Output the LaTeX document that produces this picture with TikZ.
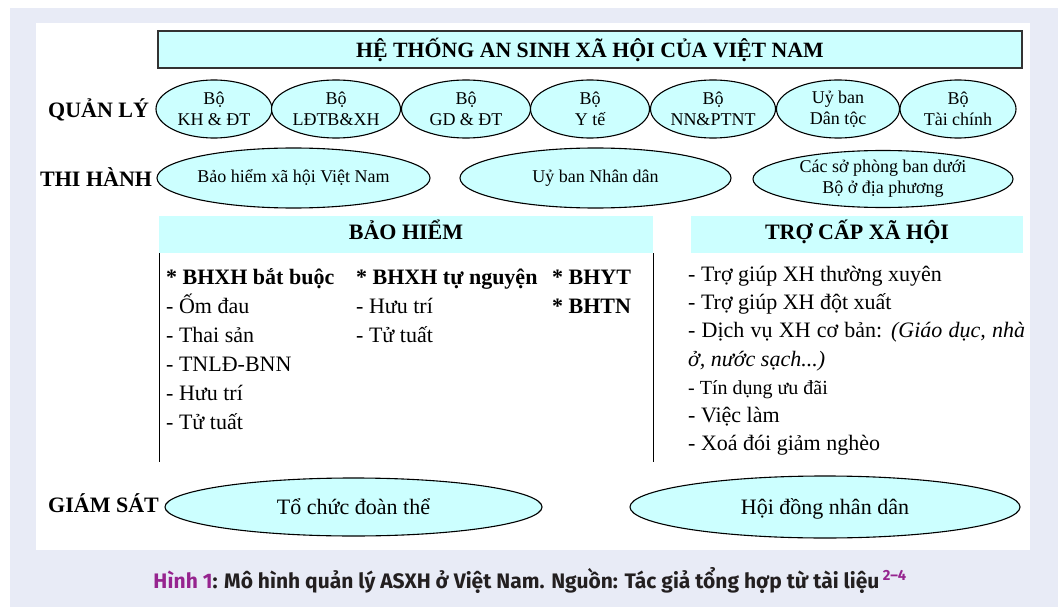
\documentclass[tikz,border=0pt]{standalone}
\usepackage{fontspec}
\setmainfont{Liberation Serif}
\newfontfamily\capfont{Fira Sans}
\usetikzlibrary{shapes.geometric}
\definecolor{bgl}{HTML}{E8EBF6}
\definecolor{cyanf}{HTML}{CCFFFF}
\definecolor{capp}{HTML}{96248F}
\definecolor{capd}{HTML}{231F20}
\begin{document}
\begin{tikzpicture}[x=1pt,y=-1pt,
 ell/.style={ellipse,draw=black,line width=1.1pt,fill=cyanf,inner sep=0pt,align=center,font=\fontsize{18}{21}\selectfont},
 one/.style={text height=12pt,text depth=3.5pt},
 big/.style={font=\fontsize{22}{26}\selectfont,text height=19pt,text depth=4.5pt},
 lbl/.style={font=\bfseries\fontsize{22}{26}\selectfont,anchor=base west,inner sep=0pt},
 body/.style={font=\fontsize{22}{26}\selectfont,anchor=base west,inner sep=0pt},
 bbody/.style={body,font=\bfseries\fontsize{22}{26}\selectfont},
 band/.style={fill=cyanf,draw=none,inner sep=0pt,font=\bfseries\fontsize{22}{26}\selectfont,text height=15pt,text depth=4.5pt},
 vline/.style={line width=1.2pt,black}
]
\useasboundingbox (0,0) rectangle (1058,607);
\fill[white] (0,0) rectangle (1058,607);
\fill[bgl] (10,8) rectangle (1058,607);
\fill[white] (36,23) rectangle (1030,550);

\node[draw=black!80,line width=1.3pt,fill=cyanf,minimum width=864pt,minimum height=37pt,inner sep=0pt,font=\bfseries\fontsize{21.8}{26}\selectfont] (title) at (590,49.5) {HỆ THỐNG AN SINH XÃ HỘI CỦA VIỆT NAM};

% QUAN LY row
\node[lbl] (lq) at (48,118) {QUẢN LÝ};
\node[ell,minimum width=116pt,minimum height=58pt] (q1) at (214,109) {Bộ\\KH \& ĐT};
\node[ell,minimum width=129pt,minimum height=58pt] (q2) at (336,109) {Bộ\\LĐTB\&XH};
\node[ell,minimum width=129pt,minimum height=58pt] (q3) at (466,109) {Bộ\\GD \& ĐT};
\node[ell,minimum width=119pt,minimum height=58pt] (q4) at (590,109) {Bộ\\Y tế};
\node[ell,minimum width=125pt,minimum height=58pt] (q5) at (713,109) {Bộ\\NN\&PTNT};
\node[ell,minimum width=123pt,minimum height=58pt] (q6) at (838,109) {Uỷ ban\\Dân tộc};
\node[ell,minimum width=116pt,minimum height=58pt] (q7) at (958,109) {Bộ\\Tài chính};

% THI HANH row
\node[lbl] (lt) at (40,186) {THI HÀNH};
\node[ell,one,minimum width=273pt,minimum height=60pt] (t1) at (293.5,178) {Bảo hiểm xã hội Việt Nam};
\node[ell,one,minimum width=271pt,minimum height=60pt] (t2) at (595.5,178) {Uỷ ban Nhân dân};
\node[ell,minimum width=260pt,minimum height=57pt] (t3) at (883,179) {Các sở phòng ban dưới\\Bộ ở địa phương};

% BAO HIEM
\node[band,minimum width=494pt,minimum height=37pt] (bh) at (406,234.5) {BẢO HIỂM};
\draw[vline] ([xshift=1pt]bh.south west) -- ++(0,209);
\draw[vline] (bh.south east) -- ++(0,209);

\node[bbody] (b1) at (166,284) {* BHXH bắt buộc};
\node[body] (b2) at (166,313) {- Ốm đau};
\node[body] (b3) at (166,342) {- Thai sản};
\node[body] (b4) at (166,371) {- TNLĐ-BNN};
\node[body] (b5) at (166,400) {- Hưu trí};
\node[body] (b6) at (166,429) {- Tử tuất};
\node[bbody] (c1) at (356,284) {* BHXH tự nguyện};
\node[body] (c2) at (356,313) {- Hưu trí};
\node[body] (c3) at (356,342) {- Tử tuất};
\node[bbody] (d1) at (552,284) {* BHYT};
\node[bbody] (d2) at (552,313) {* BHTN};

% TRO CAP
\node[band,minimum width=332pt,minimum height=37pt] (tc) at (857,234.5) {TRỢ CẤP XÃ HỘI};
\node[body] (e1) at (688,281) {- Trợ giúp XH thường xuyên};
\node[body] (e2) at (688,309) {- Trợ giúp XH đột xuất};
\node[body] (e3) at (688,337) {\makebox[337pt][s]{- Dịch vụ XH cơ bản: \textit{(Giáo dục, nhà}}};
\node[body] (e4) at (688,366) {\textit{ở, nước sạch...)}};
\node[body,font=\fontsize{20}{24}\selectfont] (e5) at (688,394) {- Tín dụng ưu đãi};
\node[body] (e6) at (688,422) {- Việc làm};
\node[body] (e7) at (688,450) {- Xoá đói giảm nghèo};

% GIAM SAT
\node[lbl] (lg) at (48,512) {GIÁM SÁT};
\node[ell,big,minimum width=377pt,minimum height=58pt] (g1) at (353.5,507) {Tổ chức đoàn thể};
\node[ell,big,minimum width=390pt,minimum height=62pt] (g2) at (825,507) {Hội đồng nhân dân};

% caption
\node[anchor=base,inner sep=0pt,font=\capfont\bfseries\fontsize{21}{25}\selectfont] (cap) at (530,588) {\textcolor{capp}{Hình 1}\textcolor{capd}{: Mô hình quản lý ASXH ở Việt Nam. Nguồn: Tác giả tổng hợp từ tài liệu}\,\textsuperscript{\textcolor{capp}{2–4}}};
\end{tikzpicture}
\end{document}
